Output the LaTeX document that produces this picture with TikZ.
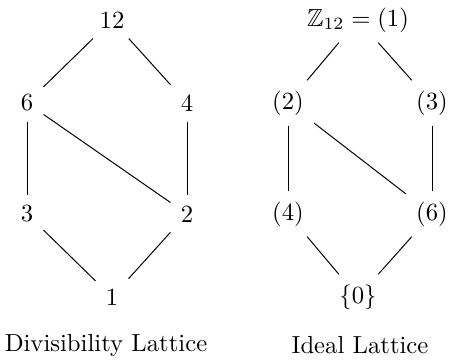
\documentclass[tikz,border=0pt]{standalone}
\usepackage{amsmath}
\usepackage{amssymb}
\usetikzlibrary{calc}

\begin{document}
\begin{tikzpicture}[x=0.405pt,y=-0.405pt,lat/.style={inner sep=4pt}]

\useasboundingbox (0,0) rectangle (473,360);

% Divisibility lattice
\node[lat] (d12) at (112,20) {12};
\node[lat] (d6) at (27,103) {6};
\node[lat] (d4) at (187,103) {4};
\node[lat] (d3) at (27,214) {3};
\node[lat] (d2) at (187,214) {2};
\node[lat] (d1) at (112,297) {1};

\draw (d12)--(d6);
\draw (d12)--(d4);
\draw (d6)--(d3);
\draw (d6)--(d2);
\draw (d4)--(d2);
\draw (d3)--(d1);
\draw (d2)--(d1);

\node (dcap) at (106,345) {Divisibility Lattice};

% Ideal lattice
\node[lat] (i1) at (358,20) {$\mathbb{Z}_{12}=(1)$};
\node[lat] (i2) at (288,103) {$(2)$};
\node[lat] (i3) at (432,103) {$(3)$};
\node[lat] (i4) at (288,214) {$(4)$};
\node[lat] (i6) at (432,214) {$(6)$};
\node[lat] (i0) at (358,297) {$\{0\}$};

\draw (i1)--(i2);
\draw (i1)--(i3);
\draw (i2)--(i4);
\draw (i2)--(i6);
\draw (i3)--(i6);
\draw (i4)--(i0);
\draw (i6)--(i0);

\node (icap) at (360,345) {Ideal Lattice};

\end{tikzpicture}
\end{document}
